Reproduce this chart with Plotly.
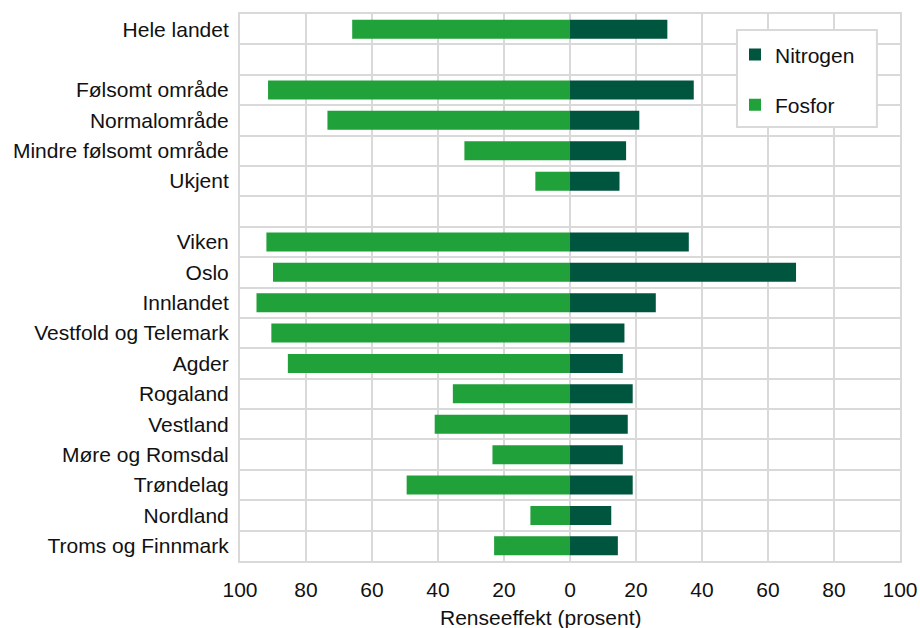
import plotly.graph_objects as go

# Rows from top to bottom; None marks an empty spacer row
categories = [
    "Hele landet", None,
    "Følsomt område", "Normalområde", "Mindre følsomt område", "Ukjent", None,
    "Viken", "Oslo", "Innlandet", "Vestfold og Telemark", "Agder", "Rogaland",
    "Vestland", "Møre og Romsdal", "Trøndelag", "Nordland", "Troms og Finnmark",
]
fosfor = [66, None, 91.5, 73.5, 32, 10.5, None, 92, 90, 95, 90.5, 85.5,
          35.5, 41, 23.5, 49.5, 12, 23]
nitrogen = [29.5, None, 37.5, 21, 17, 15, None, 36, 68.5, 26, 16.5, 16,
            19, 17.5, 16, 19, 12.5, 14.5]
x_ticks = [-100, -80, -60, -40, -20, 0, 20, 40, 60, 80, 100]
x_title = "Renseeffekt (prosent)"

rows = list(range(len(categories)))
tick_rows = [i for i, c in enumerate(categories) if c is not None]
tick_text = [c for c in categories if c is not None]

FONT = "Liberation Sans, Arial, sans-serif"
GRID = "#d9d9d9"
FS = 21

fig = go.Figure()
fig.add_trace(go.Bar(
    name="Nitrogen", y=rows, x=nitrogen, orientation="h",
    marker=dict(color="#00553f", line=dict(width=0)),
    legendgroup="n", legendrank=1,
))
fig.add_trace(go.Bar(
    name="Fosfor", y=rows, x=[None if v is None else -v for v in fosfor],
    orientation="h",
    marker=dict(color="#21a139", line=dict(width=0)),
    legendgroup="f", legendrank=2,
))

# Framed legend panel
fig.add_shape(
    type="rect", xref="paper", yref="paper",
    x0=0.753, x1=0.965, y0=0.7934, y1=0.9707,
    line=dict(color=GRID, width=2), fillcolor="white", layer="above",
)

# Axis title below the tick labels
fig.add_annotation(
    text=x_title, xref="paper", yref="paper", x=0.456, y=-0.1024,
    xanchor="center", yanchor="middle", showarrow=False,
    font=dict(size=FS),
)

fig.update_layout(
    width=920, height=628,
    margin=dict(l=240, r=20, t=14, b=67),
    paper_bgcolor="white", plot_bgcolor="white",
    barmode="relative", bargap=0.375,
    font=dict(family=FONT, size=FS, color="#111111"),
    legend=dict(
        x=0.75, y=0.963, xanchor="left", yanchor="top",
        borderwidth=0, bgcolor="rgba(0,0,0,0)",
        traceorder="grouped", tracegroupgap=20,
        font=dict(size=FS),
    ),
    xaxis=dict(
        range=[-100, 100], tickvals=x_ticks,
        ticktext=[str(abs(v)) for v in x_ticks],
        showgrid=True, gridcolor=GRID, gridwidth=2,
        zeroline=False, showline=True, linecolor=GRID, linewidth=2,
        mirror=True, ticks="", ticklabelstandoff=9, automargin=False,
    ),
    yaxis=dict(
        range=[len(categories) - 0.5, -0.5],
        tickvals=tick_rows, ticktext=tick_text,
        showgrid=False, zeroline=False, automargin=False,
        showline=True, linecolor=GRID, linewidth=2, mirror=True,
        ticks="", ticklabelstandoff=5,
        minor=dict(tickvals=[i + 0.5 for i in rows[:-1]], showgrid=True,
                   gridcolor=GRID, gridwidth=2, ticks=""),
    ),
)

fig.write_html("out.html")
